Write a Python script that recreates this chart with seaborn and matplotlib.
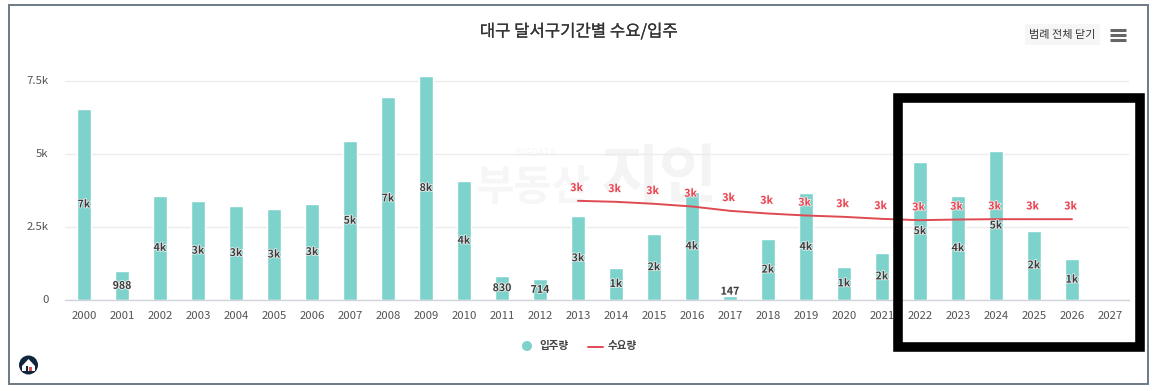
import matplotlib
matplotlib.use("Agg")
import matplotlib.pyplot as plt
import matplotlib.patheffects as pe
from matplotlib.patches import Rectangle, Circle, Polygon
from matplotlib.transforms import ScaledTranslation
import pandas as pd
import seaborn as sns

years = [str(y) for y in range(2000, 2028)]
supply = [6552, 988, 3584, 3390, 3230, 3128, 3300, 5445, 6963, 7682, 4075, 830, 714, 2877,
          1119, 2260, 3687, 147, 2100, 3653, 1153, 1632, 4726, 3562, 5114, 2386, 1415, None]
supply_labels = ["7k", "988", "4k", "3k", "3k", "3k", "3k", "5k", "7k", "8k", "4k", "830", "714", "3k",
                 "1k", "2k", "4k", "147", "2k", "4k", "1k", "2k", "5k", "4k", "5k", "2k", "1k", ""]
demand_years = [str(y) for y in range(2013, 2027)]
demand = [3402, 3368, 3300, 3208, 3060, 2968, 2900, 2854, 2785, 2740, 2763, 2774, 2774, 2774]
demand_labels = ["3k"] * len(demand)
y_ticks = [0, 2500, 5000, 7500]
y_tick_labels = ["0", "2.5k", "5k", "7.5k"]

TEAL = "#7dd3cc"
RED = "#df4a52"
W, H = 1155, 391

sns.set_theme(style="white")
plt.rcParams["font.family"] = ["Noto Sans CJK KR", "DejaVu Sans"]

supply_df = pd.DataFrame({"year": years, "supply": supply})
demand_df = pd.DataFrame({"year": demand_years, "demand": demand})

fig = plt.figure(figsize=(W / 100, H / 100), dpi=100, facecolor="white")


def pixel_axes(zorder):
    # full figure axes in image pixels, for the page furniture
    a = fig.add_axes([0, 0, 1, 1], zorder=zorder)
    a.set_xlim(0, W)
    a.set_ylim(H, 0)
    a.axis("off")
    return a


under = pixel_axes(0)
over = pixel_axes(2)

# plot area: baseline at y=300.3, 7.5k at y=81
y_top = 300.3 - 219.3 * 8000 / 7500
ax = fig.add_axes([65 / W, 1 - 300.3 / H, 1064 / W, (300.3 - y_top) / H], zorder=1)
ax.patch.set_alpha(0)

sns.barplot(data=supply_df, x="year", y="supply", color=TEAL, saturation=1, width=0.37, ax=ax, zorder=2)
sns.lineplot(data=demand_df, x="year", y="demand", color=RED, linewidth=1.4, sort=False, ax=ax, zorder=3)

ax.set_xlim(-0.5, 27.5)
ax.set_ylim(0, 8000)
ax.set_xlabel("")
ax.set_ylabel("")
ax.set_yticks(y_ticks, y_tick_labels)
ax.tick_params(axis="both", length=0, labelsize=8.2, labelcolor="#555555")
ax.tick_params(axis="x", pad=7.5)
ax.tick_params(axis="y", pad=12)
ax.grid(axis="y", color="#ececec", linewidth=1)
ax.set_axisbelow(True)
sns.despine(ax=ax, left=True)
ax.spines["bottom"].set_color("#d2d4dc")
ax.spines["bottom"].set_linewidth(1)

# y labels sit a little above their grid lines
for lab in ax.get_yticklabels():
    lab.set_transform(lab.get_transform() + ScaledTranslation(0, 1.5 / 100, fig.dpi_scale_trans))

halo = [pe.withStroke(linewidth=1.1, foreground="#f4f4f4")]
for i, (val, lab) in enumerate(zip(supply, supply_labels)):
    if val is None:
        continue
    ax.text(i, max(val / 2, 297), lab, ha="center", va="center", fontsize=7.6, fontweight="bold",
            color="#3c3c3c", path_effects=halo, zorder=5)

for yr, val, lab in zip(demand_years, demand, demand_labels):
    ax.annotate(lab, (years.index(yr), val), xytext=(-1, 9.2), textcoords="offset points",
                ha="center", va="center", fontsize=7.6, fontweight="bold", color="#ee3f4d",
                path_effects=halo, zorder=5)

# watermark behind the bars
under.text(533, 188, "부동산", ha="center", va="center", fontsize=30, fontweight="bold", color="#f6f6f6")
under.text(660, 178, "지인", ha="center", va="center", fontsize=46, fontweight="bold", color="#f4f4f4")
under.text(535, 153, "BIGDATA", ha="center", va="center", fontsize=7, color="#f6f6f6")

# title, button and menu icon
over.text(579, 32, "대구 달서구기간별 수요/입주", ha="center", va="center", fontsize=12,
          color="#333333", path_effects=[pe.withStroke(linewidth=0.15, foreground="#333333")])
over.add_patch(Rectangle((1025, 24), 75, 21, facecolor="#f6f6f6", edgecolor="none"))
over.text(1062.5, 35, "범례 전체 닫기", ha="center", va="center", fontsize=8, color="#333333")
for yy in (30, 35, 40):
    over.plot([1110, 1126], [yy, yy], color="#666666", linewidth=2.2, solid_capstyle="butt")

# legend
over.add_patch(Circle((527, 346), 5, facecolor=TEAL, edgecolor="none"))
over.text(539, 346, "입주량", ha="left", va="center", fontsize=7.6, fontweight="bold", color="#444444")
over.plot([588, 603], [347, 347], color=RED, linewidth=1.4)
over.text(608, 346, "수요량", ha="left", va="center", fontsize=7.6, fontweight="bold", color="#444444")

# logo
over.add_patch(Circle((28.5, 365), 9.5, facecolor="#10263c", edgecolor="none"))
over.add_patch(Polygon([(22, 366), (28.5, 359), (35, 366), (35, 371), (22, 371)], facecolor="white", edgecolor="none"))
over.add_patch(Rectangle((26, 366), 2, 5, facecolor="#10263c", edgecolor="none"))
over.add_patch(Rectangle((29, 367), 3, 4, facecolor="#d9534f", edgecolor="none"))

# outer frame and the black marker box
over.add_patch(Rectangle((9, 5), 1138.5, 379, fill=False, edgecolor="#6c7a86", linewidth=1.4))
over.add_patch(Rectangle((897.7, 97.7), 242.5, 249.5, fill=False, edgecolor="black", linewidth=6.9, joinstyle="miter"))

fig.savefig("out.png", dpi=100)
